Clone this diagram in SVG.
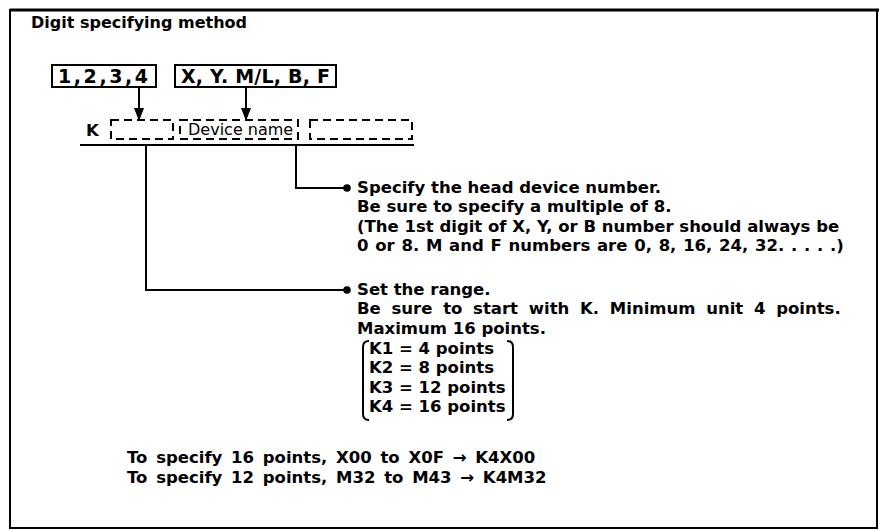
<svg xmlns="http://www.w3.org/2000/svg" width="879" height="530" viewBox="0 0 879 530">
<style>
text { font-family: "DejaVu Sans", "Liberation Sans", sans-serif; fill: #000; }
.title { font-size: 16px; font-weight: bold; }
.boxtxt { font-size: 19px; font-weight: bold; }
.note { font-size: 16.5px; font-weight: bold; }
.dev { font-size: 16px; }
.box { fill: #fff; stroke: #000; stroke-width: 2; }
.dash { fill: none; stroke: #000; stroke-width: 2; stroke-dasharray: 8 5; }
.line { fill: none; stroke: #000; stroke-width: 2; }
</style>
<defs>
<marker id="arr" markerUnits="userSpaceOnUse" markerWidth="14" markerHeight="10" refX="13" refY="5" orient="auto">
<path d="M0,0 L13,5 L0,10 z" fill="#000"/>
</marker>
<marker id="dot" markerUnits="userSpaceOnUse" markerWidth="10" markerHeight="10" refX="5" refY="5">
<circle cx="5" cy="5" r="3.8" fill="#000"/>
</marker>
</defs>
<rect x="10" y="10" width="867" height="518" fill="#fff" stroke="#000" stroke-width="2"/>
<line x1="10" y1="10" x2="879" y2="10" stroke="#000" stroke-width="3"/>
<text class="title" x="31" y="28">Digit specifying method</text>

<g id="digits">
<rect class="box" x="52" y="65" width="104" height="22"/>
<text class="boxtxt" x="58" y="83" textLength="90" lengthAdjust="spacing">1,2,3,4</text>
</g>
<g id="devices">
<rect class="box" x="175" y="65" width="161" height="22"/>
<text class="boxtxt" x="181" y="83" textLength="149" lengthAdjust="spacing">X, Y. M/L, B, F</text>
</g>

<g id="format">
<text class="note" x="86" y="136">K</text>
<rect class="dash" x="111" y="120" width="62" height="19"/>
<rect class="dash" x="180" y="120" width="118" height="19"/>
<text class="dev" x="188" y="135">Device name</text>
<rect class="dash" x="310" y="120" width="102" height="19"/>
<line class="line" x1="80" y1="145" x2="414" y2="145"/>
</g>

<g id="connectors">
<line class="line" x1="139" y1="87" x2="139" y2="121" marker-end="url(#arr)"/>
<line class="line" x1="246" y1="87" x2="246" y2="121" marker-end="url(#arr)"/>
<polyline class="line" points="296,145 296,188 347,188" marker-end="url(#dot)"/>
<polyline class="line" points="146,145 146,290 347,290" marker-end="url(#dot)"/>
</g>

<g id="note-head">
<text class="note" x="357" y="193">Specify the head device number.</text>
<text class="note" x="357" y="212">Be sure to specify a multiple of 8.</text>
<text class="note" x="357" y="232">(The 1st digit of X, Y, or B number should always be</text>
<text class="note" x="357" y="251" word-spacing="1">0 or 8. M and F numbers are 0, 8, 16, 24, 32. . . . .)</text>
</g>

<g id="note-range">
<text class="note" x="357" y="295">Set the range.</text>
<text class="note" x="357" y="314" word-spacing="5">Be sure to start with K. Minimum unit 4 points.</text>
<text class="note" x="357" y="334">Maximum 16 points.</text>
<path class="line" d="M369,341 Q363,341 363,347 L363,414 Q363,420 369,420"/>
<text class="note" x="369" y="354">K1 = 4 points</text>
<text class="note" x="369" y="373">K2 = 8 points</text>
<text class="note" x="369" y="393">K3 = 12 points</text>
<text class="note" x="369" y="412">K4 = 16 points</text>
<path class="line" d="M507,341 Q513,341 513,347 L513,414 Q513,420 507,420"/>
</g>

<g id="examples">
<text class="note" x="127" y="463" word-spacing="3">To specify 16 points, X00 to X0F → K4X00</text>
<text class="note" x="127" y="483" word-spacing="3">To specify 12 points, M32 to M43 → K4M32</text>
</g>
</svg>
